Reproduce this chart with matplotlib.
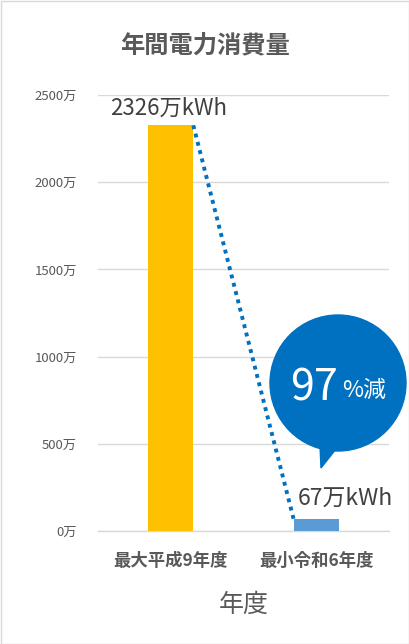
import matplotlib
matplotlib.use("Agg")
import matplotlib.pyplot as plt
import matplotlib.patches as mpatches

plt.rcParams['font.family'] = ['Noto Sans CJK JP', 'DejaVu Sans']

categories = ["最大平成9年度", "最小令和6年度"]
values = [2326, 67]
value_labels = ["2326万kWh", "67万kWh"]
yticks = [0, 500, 1000, 1500, 2000, 2500]
ytick_labels = [f"{v}万" for v in yticks]
title = "年間電力消費量"
xlabel = "年度"
bubble_big = "97"
bubble_small = "%減"

colors = ["#FFC000", "#5B9BD5"]
gray = "#595959"

W, H = 409, 644
fig = plt.figure(figsize=(W / 100, H / 100), dpi=100)
ax = fig.add_axes([98 / W, 1 - 531 / H, (389 - 98) / W, (531 - 95) / H])

bw = 0.31
x = list(range(len(categories)))
ax.bar(x, values, width=bw, color=colors, zorder=3)
ax.set_xlim(-0.5, 1.5)
ax.set_ylim(0, 2500)
ax.set_yticks(yticks)
ax.set_yticklabels(ytick_labels, fontsize=9.5, color=gray)
ax.set_xticks(x)
ax.set_xticklabels(categories, fontsize=12.5, fontweight='bold', color=gray)
ax.tick_params(axis='both', length=0)
ax.tick_params(axis='y', pad=15)
ax.tick_params(axis='x', pad=15)
ax.grid(axis='y', color="#D9D9D9", linewidth=1, zorder=0)
for s in ["top", "right", "left"]:
    ax.spines[s].set_visible(False)
ax.spines["bottom"].set_color("#D9D9D9")
ax.spines["bottom"].set_linewidth(1)
ax.set_xlabel(xlabel, fontsize=18, color=gray, labelpad=16)

# dotted connector
ax.plot([x[0] + bw / 2, x[1] - bw / 2], [values[0], values[1]],
        linestyle=(0, (1, 1.2)), color="#0070C0", linewidth=2.8, zorder=4)

# data labels
ax.text(x[0] - 0.42, 2425, value_labels[0], fontsize=16, color="#404040",
        ha='left', va='center', zorder=5)
ax.text(x[1] - 0.13, 189, value_labels[1], fontsize=16.5, color="#404040",
        ha='left', va='center', zorder=5)

# overlay in pixel coordinates for bubble and title
ov = fig.add_axes([0, 0, 1, 1], zorder=10)
ov.set_xlim(0, W)
ov.set_ylim(H, 0)
ov.axis('off')
ov.patch.set_alpha(0)

circ = mpatches.Circle((338, 383), 68, color="#0070C0", zorder=1)
ov.add_patch(circ)
tail = mpatches.Polygon([(320, 445), (336, 449), (321, 468)], closed=True,
                        color="#0070C0", zorder=1)
ov.add_patch(tail)
ov.text(314, 388, bubble_big, fontsize=31, color="white", ha='center', va='center', zorder=2)
ov.text(364, 390, bubble_small, fontsize=16.5, color="white", ha='center', va='center', zorder=2)

ov.text(W / 2, 45, title, fontsize=17.5, fontweight='bold', color=gray,
        ha='center', va='center')

border = mpatches.Rectangle((0.5, 0.5), W - 1, H - 1, fill=False,
                            edgecolor="#D9D9D9", linewidth=1)
ov.add_patch(border)

fig.savefig("out.png", dpi=100)
